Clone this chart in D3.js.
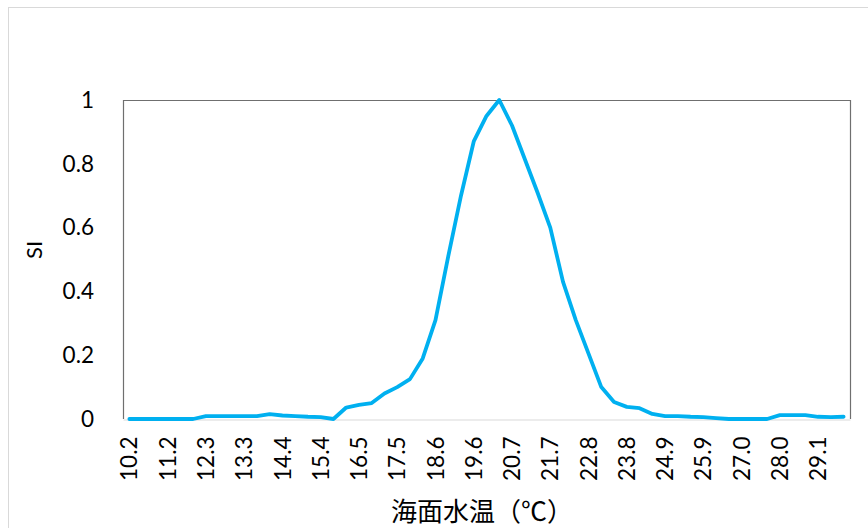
<!DOCTYPE html>
<html>
<head>
<meta charset="utf-8">
<script src="https://cdn.jsdelivr.net/npm/d3@7"></script>
<style>
  html, body { margin: 0; padding: 0; background: #ffffff; }
  svg { display: block; }
</style>
</head>
<body>
<svg id="chart" width="868" height="528"></svg>
<script>
// Sea surface temperature bins (°C)
const temperatures = [
  10.19, 10.54, 10.89, 11.24, 11.59, 11.94, 12.29, 12.64, 12.99, 13.34,
  13.69, 14.04, 14.39, 14.74, 15.09, 15.44, 15.79, 16.14, 16.49, 16.84,
  17.19, 17.54, 17.89, 18.24, 18.59, 18.94, 19.29, 19.64, 19.99, 20.34,
  20.69, 21.04, 21.39, 21.74, 22.09, 22.44, 22.79, 23.14, 23.49, 23.84,
  24.19, 24.54, 24.89, 25.24, 25.59, 25.94, 26.29, 26.64, 26.99, 27.34,
  27.69, 28.04, 28.39, 28.74, 29.09, 29.44, 29.79
];

// Suitability index for each temperature bin
const siValues = [
  0, 0, 0, 0, 0, 0, 0.009, 0.009, 0.009, 0.009,
  0.009, 0.015, 0.011, 0.009, 0.007, 0.006, 0, 0.036, 0.044, 0.05,
  0.08, 0.10, 0.125, 0.19, 0.31, 0.51, 0.70, 0.87, 0.95, 1.0,
  0.92, 0.815, 0.71, 0.60, 0.43, 0.31, 0.205, 0.10, 0.053, 0.038,
  0.034, 0.016, 0.009, 0.009, 0.007, 0.006, 0.003, 0, 0, 0,
  0, 0.012, 0.012, 0.012, 0.007, 0.006, 0.007
];

// Category labels shown on the x axis (every third bin)
const xTickLabels = [
  "10.2", "11.2", "12.3", "13.3", "14.4", "15.4", "16.5", "17.5", "18.6", "19.6",
  "20.7", "21.7", "22.8", "23.8", "24.9", "25.9", "27.0", "28.0", "29.1"
];

const yTicks = [0, 0.2, 0.4, 0.6, 0.8, 1];
const yTickLabels = ["0", "0.2", "0.4", "0.6", "0.8", "1"];

const xTitle = "海面水温（℃）";
const yTitle = "SI";

const svg = d3.select("#chart");
const plot = { left: 123, top: 100, right: 850, bottom: 419 };
const latin = "Lato, 'Open Sans', sans-serif";

// Outer chart frame
svg.append("rect")
  .attr("x", 8.5).attr("y", 7.5)
  .attr("width", 900).attr("height", 560)
  .attr("fill", "#ffffff")
  .attr("stroke", "#d9d9d9")
  .attr("stroke-width", 1);

const x = d3.scaleBand()
  .domain(temperatures.map((d, i) => i))
  .range([plot.left, plot.right]);

const y = d3.scaleLinear()
  .domain([0, 1])
  .range([plot.bottom, plot.top]);

const xc = i => x(i) + x.bandwidth() / 2;

// Plot area border: dark on top/left/right
svg.append("path")
  .attr("d", `M${plot.left + 0.5},${plot.bottom}V${plot.top + 0.5}H${plot.right + 0.5}V${plot.bottom}`)
  .attr("fill", "none")
  .attr("stroke", "#6f6f6f")
  .attr("stroke-width", 1.2);

// X axis (category axis, labels every 3rd bin)
const tickIdx = temperatures.map((d, i) => i).filter(i => i % 3 === 0);
const xAxis = d3.axisBottom(x)
  .tickValues(tickIdx)
  .tickSize(0)
  .tickPadding(0)
  .tickFormat(i => xTickLabels[i / 3]);

const gx = svg.append("g")
  .attr("transform", `translate(0,${plot.bottom + 0.5})`)
  .call(xAxis);
gx.select(".domain").attr("stroke", "#d9d9d9").attr("stroke-width", 1.2);
gx.selectAll("text")
  .attr("font-family", latin)
  .attr("font-size", 22.5)
  .attr("fill", "#000")
  .attr("text-anchor", "end")
  .attr("transform", "rotate(-90)")
  .attr("x", -17)
  .attr("y", 0)
  .attr("dy", "0.36em");

// Y axis
const yAxis = d3.axisLeft(y)
  .tickValues(yTicks)
  .tickSize(0)
  .tickPadding(29)
  .tickFormat((d, i) => yTickLabels[i]);

const gy = svg.append("g")
  .attr("transform", `translate(${plot.left},0)`)
  .call(yAxis);
gy.select(".domain").remove();
gy.selectAll("text")
  .attr("font-family", latin)
  .attr("font-size", 22.5)
  .attr("fill", "#000");

// SI curve
const line = d3.line()
  .x((d, i) => xc(i))
  .y(d => y(d));

svg.append("path")
  .datum(siValues)
  .attr("d", line)
  .attr("fill", "none")
  .attr("stroke", "#00b0f0")
  .attr("stroke-width", 3.8)
  .attr("stroke-linejoin", "round")
  .attr("stroke-linecap", "round");

// Axis titles
svg.append("text")
  .attr("transform", "translate(42,250) rotate(-90)")
  .attr("text-anchor", "middle")
  .attr("font-family", latin)
  .attr("font-size", 22)
  .attr("fill", "#000")
  .text(yTitle);

svg.append("text")
  .attr("x", 482)
  .attr("y", 521)
  .attr("text-anchor", "middle")
  .attr("font-family", "'Noto Sans CJK JP', sans-serif")
  .attr("font-size", 26)
  .attr("fill", "#000")
  .text(xTitle);
</script>
</body>
</html>
